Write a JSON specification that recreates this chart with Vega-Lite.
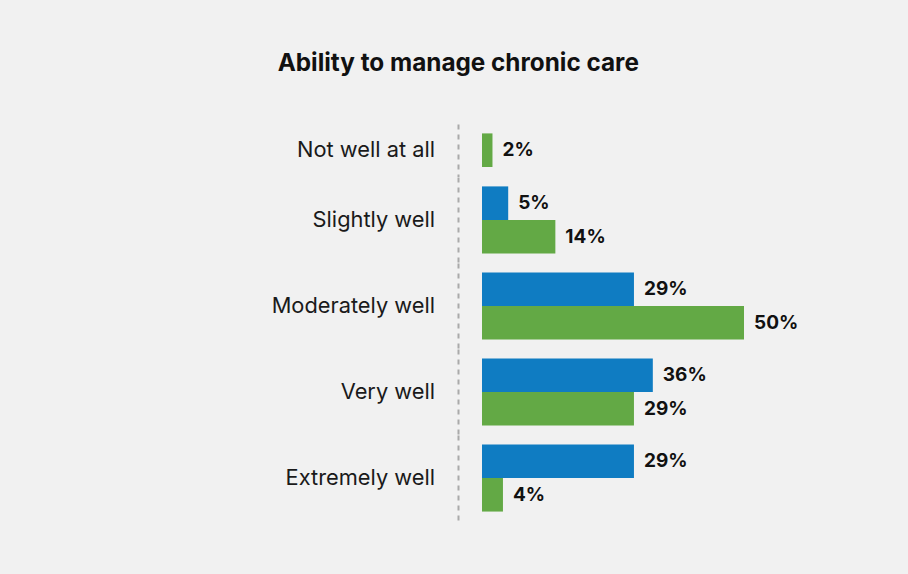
{
  "$schema": "https://vega.github.io/schema/vega-lite/v6.json",
  "background": "#f1f1f1",
  "padding": {"left": 271, "top": 51, "right": 150, "bottom": 60},
  "title": {
    "text": "Ability to manage chronic care",
    "font": "Inter",
    "fontSize": 24.3,
    "fontWeight": "bold",
    "color": "#111111",
    "anchor": "start",
    "frame": "bounds",
    "dx": 6,
    "offset": 48
  },
  "data": {
    "values": [
      {"level": "Not well at all", "series": "Group 2", "value": 2, "label": "2%"},
      {"level": "Slightly well", "series": "Group 1", "value": 5, "label": "5%"},
      {"level": "Slightly well", "series": "Group 2", "value": 14, "label": "14%"},
      {"level": "Moderately well", "series": "Group 1", "value": 29, "label": "29%"},
      {"level": "Moderately well", "series": "Group 2", "value": 50, "label": "50%"},
      {"level": "Very well", "series": "Group 1", "value": 32.6, "label": "36%"},
      {"level": "Very well", "series": "Group 2", "value": 29, "label": "29%"},
      {"level": "Extremely well", "series": "Group 1", "value": 29, "label": "29%"},
      {"level": "Extremely well", "series": "Group 2", "value": 4, "label": "4%"}
    ]
  },
  "facet": {
    "row": {
      "field": "level",
      "type": "nominal",
      "sort": ["Not well at all", "Slightly well", "Moderately well", "Very well", "Extremely well"],
      "header": {
        "title": null,
        "labelAngle": 0,
        "labelOrient": "left",
        "labelAlign": "left",
        "labelBaseline": "middle",
        "labelFont": "Inter",
        "labelFontSize": 21.8,
        "labelColor": "#1a1a1a",
        "labelPadding": 23
      }
    }
  },
  "spacing": 0,
  "resolve": {"scale": {"y": "independent"}},
  "spec": {
    "width": 262,
    "height": {"step": 33.58},
    "encoding": {
      "y": {
        "field": "series",
        "type": "nominal",
        "sort": ["Group 1", "Group 2"],
        "scale": {"paddingInner": 0, "paddingOuter": 0.28},
        "axis": {
          "title": null,
          "labels": false,
          "ticks": false,
          "domainDash": [5, 5],
          "domainColor": "#aaaaaa",
          "domainWidth": 2,
          "offset": 24
        }
      },
      "x": {
        "field": "value",
        "type": "quantitative",
        "scale": {"domain": [0, 50], "nice": false},
        "axis": null
      }
    },
    "layer": [
      {
        "mark": {"type": "bar"},
        "encoding": {
          "color": {
            "field": "series",
            "type": "nominal",
            "scale": {"domain": ["Group 1", "Group 2"], "range": ["#0f7cc2", "#63a945"]},
            "legend": null
          }
        }
      },
      {
        "mark": {
          "type": "text",
          "align": "left",
          "baseline": "middle",
          "dx": 10,
          "font": "Inter",
          "fontSize": 19,
          "fontWeight": "bold",
          "color": "#111111"
        },
        "encoding": {"text": {"field": "label"}}
      }
    ]
  },
  "config": {"view": {"stroke": null}}
}
